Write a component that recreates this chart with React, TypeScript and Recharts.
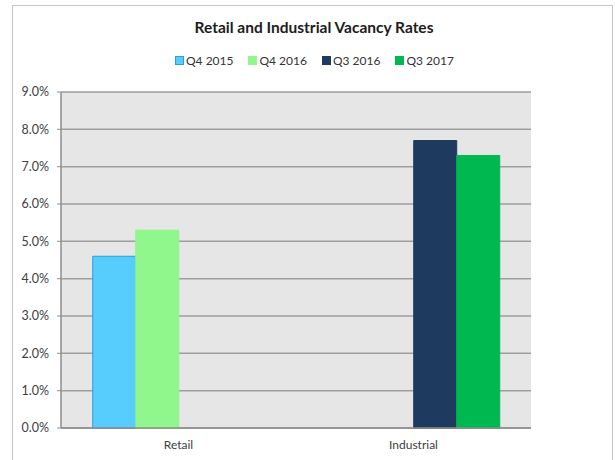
import { Bar, BarChart, CartesianGrid, XAxis, YAxis } from "recharts";

const categories = ["Retail", "Industrial"];
const seriesNames = ["Q4 2015", "Q4 2016", "Q3 2016", "Q3 2017"];
const q4_2015 = [4.6, null];
const q4_2016 = [5.3, null];
const q3_2016 = [null, 7.7];
const q3_2017 = [null, 7.3];
const yTicks = [0, 1, 2, 3, 4, 5, 6, 7, 8, 9];

const fills = ["#56cdfd", "#8ff78b", "#1f3a5f", "#00b850"];
const strokes = ["#2c9fd8", "#8ff78b", "#1f3a5f", "#00b850"];
const keys = ["s0", "s1", "s2", "s3"];

const data = categories.map((name, i) => ({
  name,
  s0: q4_2015[i],
  s1: q4_2016[i],
  s2: q3_2016[i],
  s3: q3_2017[i],
}));

const font = "Lato, 'Noto Sans', sans-serif";

export default function App() {
  return (
    <div
      style={{
        position: "fixed",
        left: 0,
        top: 0,
        width: 615,
        height: 460,
        background: "#fff",
        overflow: "hidden",
        fontFamily: font,
      }}
    >
      <div
        style={{
          position: "absolute",
          left: 12,
          top: 5,
          width: 599,
          height: 470,
          border: "1px solid #c6c6c6",
        }}
      />
      <div
        style={{
          position: "absolute",
          left: 0,
          top: 18,
          width: 628,
          textAlign: "center",
          fontSize: 15.5,
          fontWeight: 700,
          color: "#1c1c1c",
        }}
      >
        Retail and Industrial Vacancy Rates
      </div>
      <div
        style={{
          position: "absolute",
          left: 175,
          top: 53,
          display: "flex",
          gap: 15,
          fontSize: 12,
          color: "#333",
        }}
      >
        {seriesNames.map((s, i) => (
          <div key={s} style={{ display: "flex", alignItems: "center" }}>
            <span
              style={{
                display: "inline-block",
                width: 7,
                height: 7,
                background: fills[i],
                border: `1px solid ${strokes[i]}`,
                marginRight: 2,
              }}
            />
            {s}
          </div>
        ))}
      </div>
      <BarChart
        width={615}
        height={460}
        data={data}
        margin={{ top: 92, right: 84, bottom: 2, left: 0 }}
        barCategoryGap="13.5%"
        barGap={0}
        style={{ position: "absolute", left: 0, top: 0 }}
      >
        <CartesianGrid
          vertical={false}
          fill="#e6e6e6"
          stroke="#9e9e9e"
          strokeWidth={1.5}
        />
        <XAxis
          dataKey="name"
          height={30}
          tickLine={false}
          tickSize={0}
          tickMargin={12}
          axisLine={{ stroke: "#8c8c8c", strokeWidth: 1.5 }}
          tick={{ fontSize: 12, fill: "#404040", fontFamily: font }}
        />
        <YAxis
          width={61}
          domain={[0, 9]}
          ticks={yTicks}
          interval={0}
          tickSize={4}
          tickMargin={8}
          tickFormatter={(v) => `${Number(v).toFixed(1)}%`}
          tickLine={{ stroke: "#8c8c8c" }}
          axisLine={{ stroke: "#8c8c8c", strokeWidth: 1.5 }}
          tick={{ fontSize: 12.5, fill: "#404040", fontFamily: font }}
        />
        {keys.map((k, i) => (
          <Bar
            key={k}
            dataKey={k}
            name={seriesNames[i]}
            fill={fills[i]}
            stroke={strokes[i]}
            strokeWidth={1}
            isAnimationActive={false}
          />
        ))}
      </BarChart>
    </div>
  );
}
